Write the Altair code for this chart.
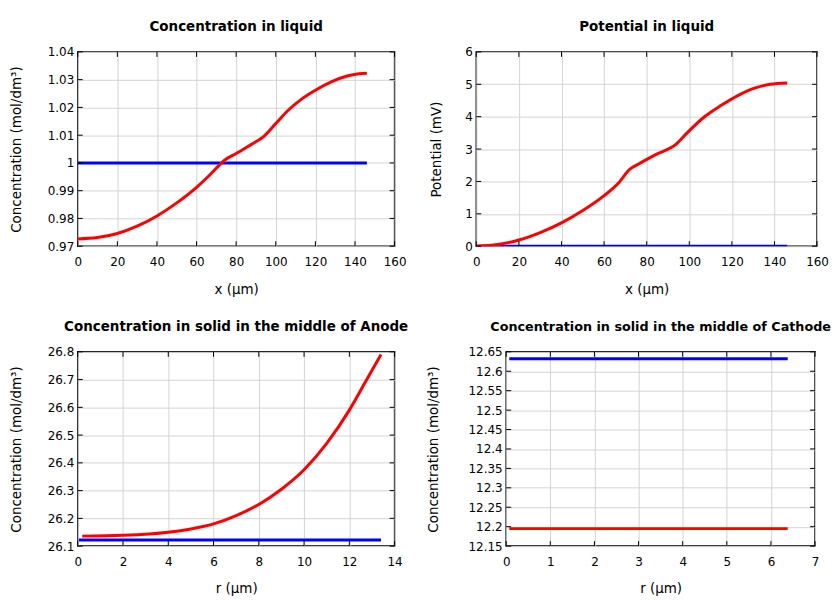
import altair as alt
import pandas as pd

FONT = "DejaVu Sans"

# ---- Panel 1: Concentration in liquid ----
p1_red_x = [0, 10, 20, 30, 40, 50, 60, 66, 72, 74, 80, 88, 94, 100, 106, 113, 120, 128, 136, 142, 146]
p1_red_y = [0.9726, 0.9731, 0.9746, 0.9772, 0.9809, 0.9856, 0.9912, 0.9952, 0.9996, 1.0009, 1.0034,
            1.0068, 1.0096, 1.0142, 1.0188, 1.0230, 1.0262, 1.0292, 1.0313, 1.0321, 1.0323]
p1_blue_x = [0, 146]
p1_blue_y = [1.0, 1.0]
p1_xticks = [0, 20, 40, 60, 80, 100, 120, 140, 160]
p1_yticks = [0.97, 0.98, 0.99, 1.0, 1.01, 1.02, 1.03, 1.04]

# ---- Panel 2: Potential in liquid ----
p2_red_x = [0, 10, 20, 30, 40, 50, 60, 67, 72, 76, 84, 94, 99, 107, 115, 123, 131, 138, 146]
p2_red_y = [0.0, 0.05, 0.19, 0.42, 0.72, 1.10, 1.56, 1.97, 2.37, 2.53, 2.82, 3.16, 3.50, 3.99, 4.35,
            4.66, 4.89, 5.0, 5.04]
p2_blue_x = [0, 146]
p2_blue_y = [0.0, 0.0]
p2_xticks = [0, 20, 40, 60, 80, 100, 120, 140, 160]
p2_yticks = [0, 1, 2, 3, 4, 5, 6]

# ---- Panel 3: Concentration in solid, Anode ----
p3_red_x = [0.2, 2, 4, 5, 6, 7, 8, 9, 10, 11, 12, 12.7, 13.4]
p3_red_y = [26.136, 26.139, 26.150, 26.162, 26.180, 26.210, 26.250, 26.305, 26.375, 26.470, 26.590,
            26.690, 26.79]
p3_blue_x = [0.05, 13.4]
p3_blue_y = [26.122, 26.122]
p3_xticks = [0, 2, 4, 6, 8, 10, 12, 14]
p3_yticks = [26.1, 26.2, 26.3, 26.4, 26.5, 26.6, 26.7, 26.8]

# ---- Panel 4: Concentration in solid, Cathode ----
p4_red_x = [0.07, 6.38]
p4_red_y = [12.195, 12.195]
p4_blue_x = [0.07, 6.38]
p4_blue_y = [12.632, 12.632]
p4_xticks = [0, 1, 2, 3, 4, 5, 6, 7]
p4_yticks = [12.15, 12.2, 12.25, 12.3, 12.35, 12.4, 12.45, 12.5, 12.55, 12.6, 12.65]

H = 195
TICK = 5


def panel(title, rx, ry, bx, by, xticks, yticks, xtitle, ytitle, W, ytitle_pad, tsize=13.5):
    xsc = alt.Scale(domain=[xticks[0], xticks[-1]], nice=False, zero=False)
    ysc = alt.Scale(domain=[yticks[0], yticks[-1]], nice=False, zero=False)
    xaxis = alt.Axis(values=xticks, grid=True, gridColor="#d4d4d4", gridWidth=1, ticks=False,
                     domain=False, labelPadding=10, labelFlush=False, labelOverlap=False,
                     format=".6~g", labelFont=FONT, labelFontSize=12, labelColor="black",
                     titleFont=FONT, titleFontSize=13.5, titleFontWeight="normal",
                     titleColor="black", titlePadding=15)
    yaxis = alt.Axis(values=yticks, grid=True, gridColor="#d4d4d4", gridWidth=1, ticks=False,
                     domain=False, labelPadding=4, labelFlush=False, labelOverlap=False,
                     format=".6~g", labelFont=FONT, labelFontSize=12, labelColor="black",
                     titleFont=FONT, titleFontSize=13.5, titleFontWeight="normal",
                     titleColor="black", titlePadding=ytitle_pad)
    red = pd.DataFrame({"x": rx, "y": ry})
    blue = pd.DataFrame({"x": bx, "y": by})
    xt = pd.DataFrame({"x": xticks})
    yt = pd.DataFrame({"y": yticks})

    X = alt.X("x:Q", scale=xsc, axis=xaxis, title=xtitle)
    Y = alt.Y("y:Q", scale=ysc, axis=yaxis, title=ytitle)

    blue_line = alt.Chart(blue).mark_line(color="#0000ff", strokeWidth=3, clip=True).encode(x=X, y=Y)
    red_line = alt.Chart(red).mark_line(color="#ff0000", strokeWidth=3, interpolate="monotone",
                                         clip=True).encode(x=X, y=Y)
    bt = alt.Chart(xt).mark_rule(color="black", strokeWidth=1).encode(
        x=X, y=alt.value(H), y2=alt.value(H - TICK))
    tt = alt.Chart(xt).mark_rule(color="black", strokeWidth=1).encode(
        x=X, y=alt.value(0), y2=alt.value(TICK))
    lt = alt.Chart(yt).mark_rule(color="black", strokeWidth=1).encode(
        y=Y, x=alt.value(0), x2=alt.value(TICK))
    rt = alt.Chart(yt).mark_rule(color="black", strokeWidth=1).encode(
        y=Y, x=alt.value(W), x2=alt.value(W - TICK))
    return alt.layer(blue_line, red_line, bt, tt, lt, rt).properties(
        width=W, height=H,
        title=alt.TitleParams(title, font=FONT, fontSize=tsize, fontWeight="bold", color="black",
                              anchor="middle", offset=12),
    )


c1 = panel("Concentration in liquid", p1_red_x, p1_red_y, p1_blue_x, p1_blue_y, p1_xticks, p1_yticks,
           "x (µm)", "Concentration (mol/dm³)", 318, 24)
c2 = panel("Potential in liquid", p2_red_x, p2_red_y, p2_blue_x, p2_blue_y, p2_xticks, p2_yticks,
           "x (µm)", "Potential (mV)", 342, 21)
c3 = panel("Concentration in solid in the middle of Anode", p3_red_x, p3_red_y, p3_blue_x, p3_blue_y,
           p3_xticks, p3_yticks, "r (µm)", "Concentration (mol/dm³)", 318, 24)
c4 = panel("Concentration in solid in the middle of Cathode", p4_red_x, p4_red_y, p4_blue_x, p4_blue_y,
           p4_xticks, p4_yticks, "r (µm)", "Concentration (mol/dm³)", 310, 28, tsize=12.8)

chart = alt.vconcat(
    alt.hconcat(c1, c2, spacing=21),
    alt.hconcat(c3, c4, spacing=15),
    spacing=22,
).properties(
    padding={"left": 0, "top": 10, "right": 0, "bottom": 0},
    background="white",
).configure_view(stroke="black", strokeWidth=1.5)

chart.save("out.html", embed_options={"renderer": "svg", "actions": False})
